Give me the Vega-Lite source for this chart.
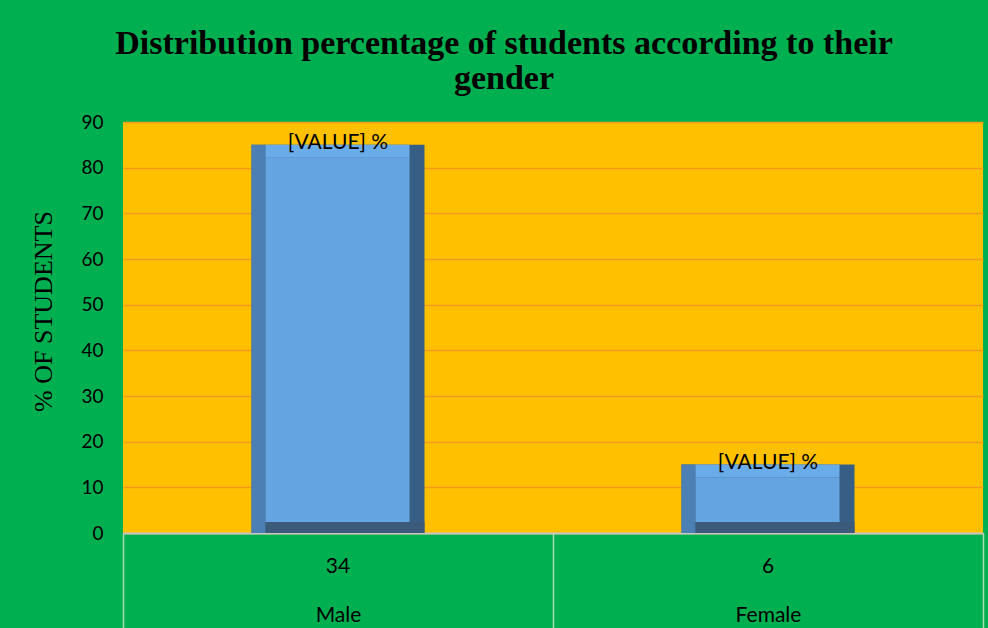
{
  "$schema": "https://vega.github.io/schema/vega-lite/v6.json",
  "autosize": "none",
  "width": 860,
  "height": 411,
  "padding": {"left": 123, "top": 122, "right": 5, "bottom": 95},
  "background": "#00AF50",
  "title": {
    "text": ["Distribution percentage of students according to their", "gender"],
    "font": "Liberation Serif",
    "fontSize": 34,
    "fontWeight": "bold",
    "color": "#000000",
    "lineHeight": 35,
    "anchor": "middle",
    "dx": -49,
    "offset": 17
  },
  "config": {
    "view": {"fill": "#FFC000", "stroke": null},
    "font": "Lato"
  },
  "data": {
    "values": [
      {"gender": "Male", "count": 34, "percent": 85},
      {"gender": "Female", "count": 6, "percent": 15}
    ]
  },
  "encoding": {
    "x": {
      "field": "gender",
      "type": "nominal",
      "sort": null,
      "scale": {"paddingInner": 0, "paddingOuter": 0},
      "axis": {
        "title": null,
        "labelAngle": 0,
        "labelFont": "Lato",
        "labelFontSize": 21,
        "labelColor": "#000000",
        "labelBaseline": "top",
        "labelPadding": -24,
        "tickBand": "extent",
        "tickSize": 95,
        "tickColor": "#A9DDB6",
        "tickWidth": 1.5,
        "domainColor": "#C8C8C8",
        "domainWidth": 2,
        "grid": false
      }
    },
    "y": {
      "field": "percent",
      "type": "quantitative",
      "scale": {"domain": [0, 90], "nice": false},
      "axis": {
        "title": "% OF STUDENTS",
        "titleFont": "Liberation Serif",
        "titleFontSize": 26,
        "titleFontWeight": "normal",
        "titleColor": "#000000",
        "titleAngle": -90,
        "titleAlign": "center",
        "titleBaseline": "alphabetic",
        "titleX": -72,
        "titleY": 189,
        "values": [0, 10, 20, 30, 40, 50, 60, 70, 80, 90],
        "labelFont": "Lato",
        "labelFontSize": 19,
        "labelColor": "#000000",
        "labelPadding": 20,
        "ticks": false,
        "domain": false,
        "grid": true,
        "gridColor": "#F39A1C",
        "gridWidth": 1.5
      }
    }
  },
  "layer": [
    {
      "mark": {"type": "bar", "color": "#375E85", "width": 173},
      "encoding": {"y2": {"datum": 0}}
    },
    {
      "mark": {"type": "bar", "color": "#4C80B5", "width": 14, "xOffset": -79.5},
      "encoding": {"y2": {"datum": 0}}
    },
    {
      "mark": {"type": "bar", "color": "#3C5A7A", "width": 159, "xOffset": 7, "y2Offset": -11},
      "encoding": {"y": {"datum": 0}, "y2": {"datum": 0}}
    },
    {
      "mark": {"type": "bar", "color": "#6AABEA", "width": 144, "xOffset": -0.5, "y2Offset": 13},
      "encoding": {"y2": {"field": "percent"}}
    },
    {
      "mark": {"type": "bar", "color": "#64A5E1", "width": 144, "xOffset": -0.5, "yOffset": 13, "y2Offset": -11},
      "encoding": {"y2": {"datum": 0}}
    },
    {
      "mark": {"type": "text", "text": "[VALUE] %", "font": "Lato", "fontSize": 21, "color": "#000000", "baseline": "alphabetic", "dy": 4},
      "encoding": {}
    },
    {
      "mark": {"type": "text", "font": "Lato", "fontSize": 21, "color": "#000000", "baseline": "middle", "dy": 34},
      "encoding": {"y": {"datum": 0}, "text": {"field": "count", "type": "quantitative"}}
    }
  ]
}
